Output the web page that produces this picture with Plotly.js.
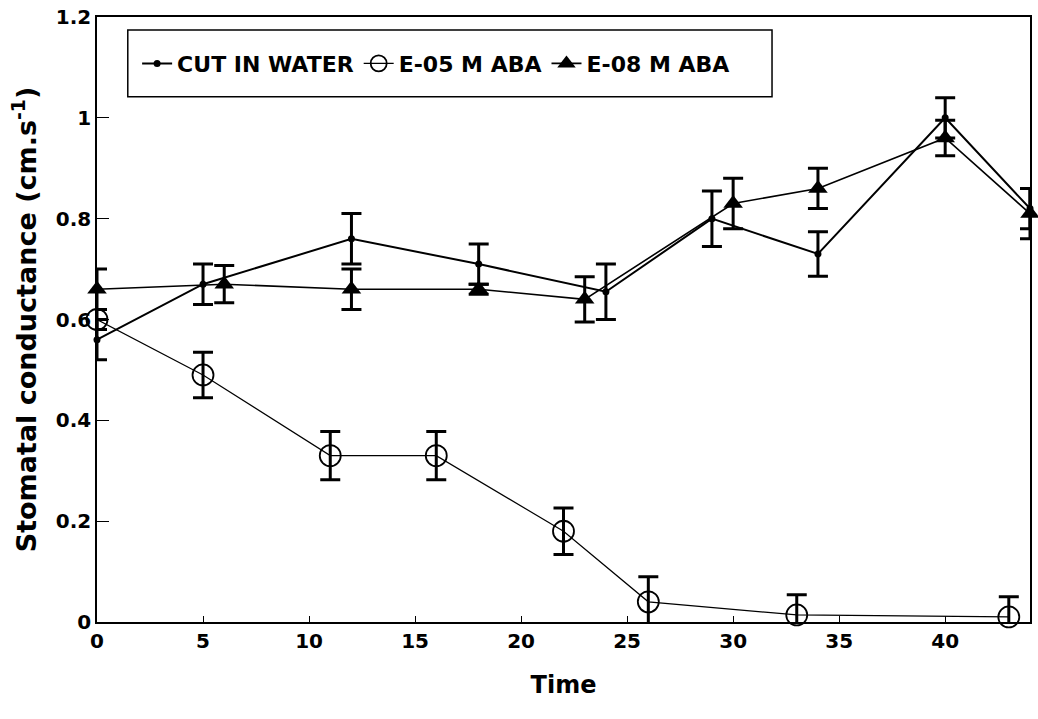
<!DOCTYPE html>
<html>
<head>
<meta charset="utf-8">
<script src="https://cdn.plot.ly/plotly-3.0.1.min.js"></script>
<style>html,body{margin:0;padding:0;background:#fff;}#chart{width:1038px;height:719px;}</style>
</head>
<body>
<div id="chart"></div>
<script>
// Series names
const seriesNames = ["CUT IN WATER", "E-05 M ABA", "E-08 M ABA"];

// CUT IN WATER
const waterX = [0, 5, 12, 18, 24, 29, 34, 40, 44];
const waterY = [0.56, 0.67, 0.76, 0.71, 0.655, 0.80, 0.73, 1.00, 0.82];
const waterErr = [0.04, 0.04, 0.05, 0.04, 0.055, 0.055, 0.044, 0.04, 0.04];

// E-05 M ABA
const abaHighX = [0, 5, 11, 16, 22, 26, 33, 43];
const abaHighY = [0.60, 0.49, 0.33, 0.33, 0.18, 0.04, 0.014, 0.01];
const abaHighErr = [0.02, 0.045, 0.048, 0.048, 0.046, 0.05, 0.04, 0.04];

// E-08 M ABA
const abaLowX = [0, 6, 12, 18, 23, 30, 34, 40, 44];
const abaLowY = [0.66, 0.67, 0.66, 0.66, 0.64, 0.83, 0.86, 0.96, 0.81];
const abaLowErr = [0.04, 0.037, 0.04, 0.01, 0.045, 0.05, 0.04, 0.035, 0.05];

// Axis ticks
const xTicks = [0, 5, 10, 15, 20, 25, 30, 35, 40];
const yTicks = [0, 0.2, 0.4, 0.6, 0.8, 1, 1.2];
const yTickText = ["0", "0.2", "0.4", "0.6", "0.8", "1", "1.2"];

const FONT = "'DejaVu Sans', 'Liberation Sans', Arial, sans-serif";
const errStyle = {type: 'data', visible: true, color: '#000', thickness: 3, width: 10};

const traces = [
  {
    x: waterX, y: waterY, name: seriesNames[0], type: 'scatter', mode: 'lines+markers',
    line: {color: '#000', width: 2},
    marker: {symbol: 'circle', size: 7, color: '#000'},
    error_y: Object.assign({array: waterErr}, errStyle),
    cliponaxis: false
  },
  {
    x: abaHighX, y: abaHighY, name: seriesNames[1], type: 'scatter', mode: 'lines+markers',
    line: {color: '#000', width: 1.2},
    marker: {symbol: 'circle-open', size: 21, color: '#000', line: {width: 1.8, color: '#000'}},
    error_y: Object.assign({array: abaHighErr}, errStyle),
    cliponaxis: false
  },
  {
    x: abaLowX, y: abaLowY, name: seriesNames[2], type: 'scatter', mode: 'lines+markers',
    line: {color: '#000', width: 1.6},
    marker: {symbol: 'triangle-up', size: 17, color: '#000'},
    error_y: Object.assign({array: abaLowErr}, errStyle),
    cliponaxis: false
  }
];

const layout = {
  width: 1038, height: 719,
  paper_bgcolor: '#fff', plot_bgcolor: '#fff',
  margin: {l: 97, r: 8, t: 17, b: 97},
  font: {family: FONT, color: '#000', size: 18, weight: 'bold'},
  showlegend: true,
  legend: {
    orientation: 'h', x: 0.043, y: 0.923, xanchor: 'left', yanchor: 'middle',
    bgcolor: 'rgba(0,0,0,0)', borderwidth: 0,
    font: {family: FONT, size: 22, color: '#000', weight: 'bold'},
    itemwidth: 30, tracegroupgap: 0
  },
  shapes: [
    {type: 'rect', xref: 'paper', yref: 'paper', x0: 0.033, x1: 0.7235, y0: 0.868, y1: 0.9785,
     line: {color: '#000', width: 1.5}, fillcolor: '#fff', layer: 'below'}
  ],
  xaxis: {
    range: [0, 44], tickmode: 'array', tickvals: xTicks, ticktext: xTicks.map(String),
    ticks: 'inside', ticklen: 6, tickwidth: 1, tickcolor: '#000',
    showline: true, linecolor: '#000', linewidth: 1.5, mirror: true,
    showgrid: false, zeroline: false,
    tickfont: {family: FONT, size: 20, color: '#000', weight: 'bold'},
    title: {text: 'Time', font: {family: FONT, size: 24, color: '#000', weight: 'bold'}, standoff: 24},
    automargin: false
  },
  yaxis: {
    range: [0, 1.2], tickmode: 'array', tickvals: yTicks, ticktext: yTickText,
    ticks: 'inside', ticklen: 12, tickwidth: 1, tickcolor: '#000',
    showline: true, linecolor: '#000', linewidth: 1.5, mirror: true,
    showgrid: false, zeroline: false,
    tickfont: {family: FONT, size: 20, color: '#000', weight: 'bold'},
    title: {text: 'Stomatal conductance (cm.s<sup>-1</sup>)', font: {family: FONT, size: 27, color: '#000', weight: 'bold'}, standoff: 11},
    automargin: false
  }
};

Plotly.newPlot('chart', traces, layout, {displayModeBar: false, responsive: false});
</script>
</body>
</html>
